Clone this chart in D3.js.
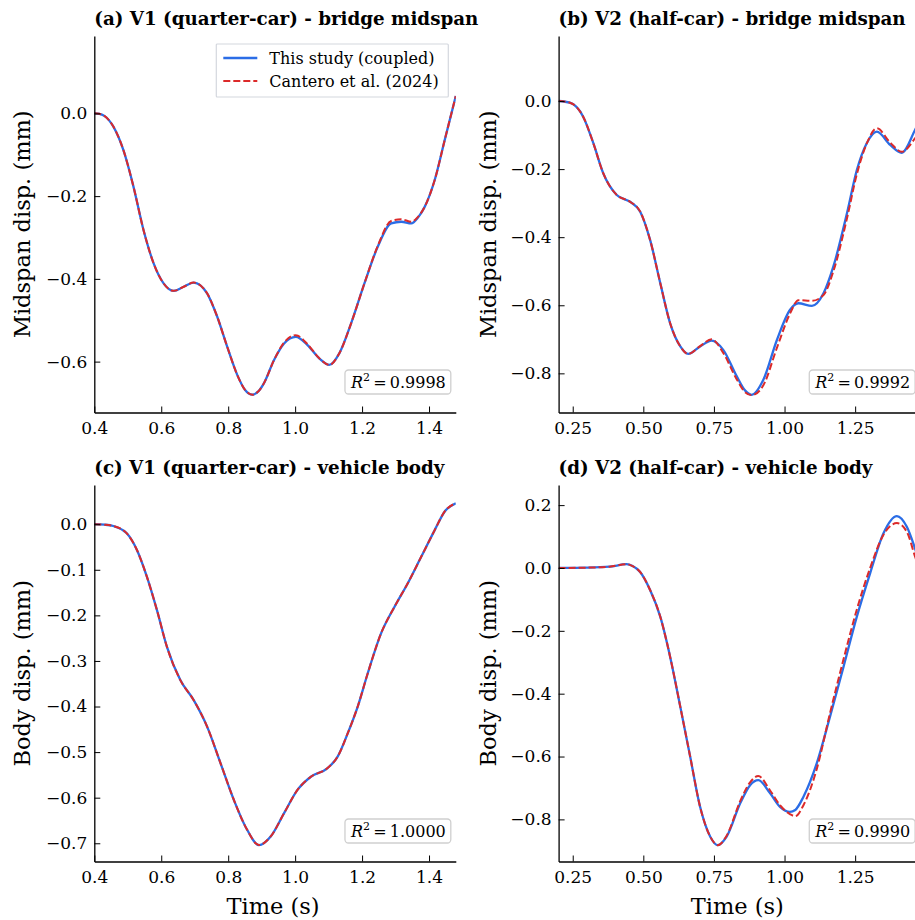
<!DOCTYPE html>
<html>
<head>
<meta charset="utf-8">
<script src="https://cdn.jsdelivr.net/npm/d3@7"></script>
<style>
body { margin: 0; background: #fff; }
text { font-family: "DejaVu Serif", serif; fill: #000; }
</style>
</head>
<body>
<script>
// (a) V1 bridge midspan
const timeA = [0.40, 0.415, 0.43, 0.457, 0.487, 0.517, 0.547, 0.577, 0.607, 0.637, 0.667, 0.697, 0.737, 0.767, 0.797, 0.827, 0.850, 0.872, 0.890, 0.907, 0.937, 0.967, 1.002, 1.037, 1.072, 1.102, 1.132, 1.167, 1.207, 1.247, 1.287, 1.317, 1.347, 1.367, 1.387, 1.417, 1.447, 1.48];
const studyA = [0.000, -0.001, -0.006, -0.032, -0.089, -0.177, -0.282, -0.362, -0.411, -0.429, -0.419, -0.409, -0.435, -0.491, -0.564, -0.632, -0.668, -0.680, -0.672, -0.652, -0.596, -0.556, -0.540, -0.560, -0.592, -0.608, -0.580, -0.508, -0.411, -0.322, -0.266, -0.262, -0.266, -0.252, -0.226, -0.161, -0.064, 0.042];
const canteroA = [0.000, -0.001, -0.006, -0.032, -0.089, -0.177, -0.282, -0.362, -0.411, -0.429, -0.419, -0.409, -0.435, -0.491, -0.564, -0.632, -0.668, -0.680, -0.672, -0.652, -0.596, -0.554, -0.536, -0.558, -0.592, -0.608, -0.580, -0.508, -0.411, -0.320, -0.260, -0.256, -0.262, -0.250, -0.226, -0.161, -0.064, 0.042];

// (b) V2 bridge midspan
const timeB = [0.200, 0.240, 0.287, 0.323, 0.358, 0.406, 0.453, 0.489, 0.524, 0.560, 0.595, 0.631, 0.659, 0.701, 0.742, 0.783, 0.831, 0.860, 0.884, 0.925, 0.973, 1.019, 1.049, 1.097, 1.138, 1.173, 1.221, 1.256, 1.291, 1.327, 1.374, 1.415, 1.462, 1.48];
const studyB = [0.000, -0.005, -0.046, -0.124, -0.212, -0.276, -0.296, -0.325, -0.408, -0.535, -0.653, -0.721, -0.743, -0.721, -0.704, -0.731, -0.809, -0.850, -0.863, -0.819, -0.702, -0.614, -0.594, -0.602, -0.565, -0.486, -0.330, -0.203, -0.124, -0.090, -0.129, -0.152, -0.085, -0.055];
const canteroB = [0.000, -0.005, -0.046, -0.124, -0.212, -0.276, -0.296, -0.325, -0.408, -0.535, -0.653, -0.721, -0.743, -0.720, -0.700, -0.740, -0.818, -0.855, -0.864, -0.835, -0.725, -0.625, -0.585, -0.587, -0.570, -0.500, -0.345, -0.215, -0.125, -0.080, -0.122, -0.149, -0.110, -0.090];

// (c) V1 vehicle body
const timeC = [0.400, 0.430, 0.457, 0.497, 0.527, 0.557, 0.587, 0.617, 0.657, 0.697, 0.737, 0.777, 0.817, 0.857, 0.892, 0.927, 0.967, 1.007, 1.047, 1.097, 1.127, 1.157, 1.187, 1.217, 1.257, 1.297, 1.337, 1.377, 1.417, 1.447, 1.48];
const studyC = [0.000, -0.001, -0.004, -0.020, -0.056, -0.115, -0.188, -0.269, -0.342, -0.386, -0.444, -0.524, -0.605, -0.671, -0.704, -0.685, -0.634, -0.583, -0.554, -0.535, -0.510, -0.459, -0.400, -0.327, -0.239, -0.181, -0.129, -0.071, -0.013, 0.028, 0.046];
const canteroC = [0.000, -0.001, -0.004, -0.020, -0.056, -0.115, -0.188, -0.269, -0.342, -0.386, -0.444, -0.524, -0.605, -0.671, -0.704, -0.685, -0.634, -0.583, -0.554, -0.535, -0.510, -0.459, -0.400, -0.327, -0.239, -0.181, -0.129, -0.071, -0.013, 0.028, 0.046];

// (d) V2 vehicle body
const timeD = [0.200, 0.300, 0.380, 0.441, 0.462, 0.488, 0.524, 0.560, 0.595, 0.631, 0.666, 0.701, 0.737, 0.764, 0.795, 0.843, 0.878, 0.907, 0.949, 0.984, 1.019, 1.038, 1.067, 1.114, 1.161, 1.209, 1.256, 1.303, 1.350, 1.398, 1.433, 1.462, 1.48];
const studyD = [0.000, 0.001, 0.004, 0.012, 0.006, -0.012, -0.070, -0.155, -0.283, -0.442, -0.601, -0.760, -0.855, -0.882, -0.855, -0.749, -0.691, -0.675, -0.717, -0.760, -0.776, -0.770, -0.728, -0.622, -0.473, -0.314, -0.155, -0.017, 0.110, 0.165, 0.131, 0.062, 0.010];
const canteroD = [0.000, 0.001, 0.004, 0.012, 0.006, -0.012, -0.070, -0.155, -0.283, -0.442, -0.601, -0.760, -0.855, -0.882, -0.852, -0.742, -0.682, -0.662, -0.708, -0.755, -0.783, -0.790, -0.755, -0.640, -0.462, -0.290, -0.132, 0.000, 0.105, 0.143, 0.115, 0.037, -0.010];

const titles = ["(a) V1 (quarter-car) - bridge midspan", "(b) V2 (half-car) - bridge midspan",
                "(c) V1 (quarter-car) - vehicle body", "(d) V2 (half-car) - vehicle body"];
const yLabels = ["Midspan disp. (mm)", "Midspan disp. (mm)", "Body disp. (mm)", "Body disp. (mm)"];
const r2Values = ["0.9998", "0.9992", "1.0000", "0.9990"];
const legendLabels = ["This study (coupled)", "Cantero et al. (2024)"];

const xDomains = [[0.4, 1.48], [0.2, 1.48], [0.4, 1.48], [0.2, 1.48]];
const xTicksLeft = [0.4, 0.6, 0.8, 1.0, 1.2, 1.4];
const xTicksRight = [0.25, 0.50, 0.75, 1.00, 1.25];
const yDomains = [[-0.723, 0.187], [-0.915, 0.191], [-0.740, 0.086], [-0.934, 0.264]];
const yTicks = [
    [0.0, -0.2, -0.4, -0.6],
    [0.0, -0.2, -0.4, -0.6, -0.8],
    [0.0, -0.1, -0.2, -0.3, -0.4, -0.5, -0.6, -0.7],
    [0.2, 0.0, -0.2, -0.4, -0.6, -0.8]
];

const times = [timeA, timeB, timeC, timeD];
const studies = [studyA, studyB, studyC, studyD];
const canteros = [canteroA, canteroB, canteroC, canteroD];

width = 915;
height = 920;
const colLeft = [94.3, 558.6];
const rowTop = [36, 485];
const axW = 361.5;
const axH = 376.5;
const blue = "#2b6de6";
const red = "#dc2a2a";

const svg = d3.select("body").append("svg")
    .attr("width", width)
    .attr("height", height);

for (let i = 0; i < 4; i++) {
    const col = i % 2, row = Math.floor(i / 2);
    const left = colLeft[col], top = rowTop[row];
    const x = d3.scaleLinear().domain(xDomains[i]).range([0, axW]);
    const y = d3.scaleLinear().domain(yDomains[i]).range([axH, 0]);
    const g = svg.append("g").attr("transform", `translate(${left},${top})`);

    g.append("clipPath").attr("id", "clip" + i)
        .append("rect").attr("width", axW).attr("height", axH);

    const line = d3.line()
        .x(d => x(d[0]))
        .y(d => y(d[1]))
        .curve(d3.curveMonotoneX);

    // curves
    g.append("path")
        .datum(d3.zip(times[i], studies[i]))
        .attr("clip-path", `url(#clip${i})`)
        .attr("fill", "none")
        .attr("stroke", blue)
        .attr("stroke-width", 2.3)
        .attr("d", line);
    g.append("path")
        .datum(d3.zip(times[i], canteros[i]))
        .attr("clip-path", `url(#clip${i})`)
        .attr("fill", "none")
        .attr("stroke", red)
        .attr("stroke-width", 2)
        .attr("stroke-dasharray", "7,3")
        .attr("d", line);

    // axes, ticks pointing inward
    const xAxis = d3.axisBottom(x)
        .tickValues(col === 0 ? xTicksLeft : xTicksRight)
        .tickFormat(d3.format(col === 0 ? ".1f" : ".2f"))
        .tickSizeInner(-6).tickSizeOuter(0).tickPadding(9);
    const yAxis = d3.axisLeft(y)
        .tickValues(yTicks[i])
        .tickFormat(d3.format(".1f"))
        .tickSizeInner(-6).tickSizeOuter(0).tickPadding(7);

    const gx = g.append("g").attr("transform", `translate(0,${axH})`).call(xAxis);
    const gy = g.append("g").call(yAxis);
    [gx, gy].forEach(a => {
        a.select(".domain").attr("stroke", "#000").attr("stroke-width", 1.3);
        a.selectAll(".tick line").attr("stroke", "#000").attr("stroke-width", 1);
        a.selectAll(".tick text")
            .attr("font-family", "DejaVu Serif")
            .attr("font-size", 17)
            .attr("fill", "#000");
    });

    // title, labels
    g.append("text")
        .attr("x", 0)
        .attr("y", -11)
        .attr("font-size", 18.3)
        .attr("font-weight", "bold")
        .text(titles[i]);

    g.append("text")
        .attr("transform", `translate(${col === 0 ? -72 : -70.6},${axH / 2}) rotate(-90)`)
        .attr("text-anchor", "middle")
        .attr("dy", "0.35em")
        .attr("font-size", 22.5)
        .text(yLabels[i]);

    if (row === 1) {
        g.append("text")
            .attr("x", axW / 2 - 2)
            .attr("y", axH + 52)
            .attr("text-anchor", "middle")
            .attr("font-size", 22.5)
            .text("Time (s)");
    }

    // R^2 box
    const box = g.append("g");
    const rect = box.append("rect")
        .attr("fill", "#fff")
        .attr("stroke", "#cfcfcf")
        .attr("stroke-width", 1.3)
        .attr("rx", 3.5);
    const t = box.append("text")
        .attr("x", axW - 10)
        .attr("y", axH - 25)
        .attr("text-anchor", "end")
        .attr("font-size", 16);
    t.append("tspan").attr("font-style", "italic").text("R");
    t.append("tspan").attr("font-size", 11).attr("dy", -7).text("2");
    t.append("tspan").attr("dy", 7).text("\u2009=\u2009" + r2Values[i]);
    const bb = t.node().getBBox();
    rect.attr("x", bb.x - 5).attr("y", axH - 42.5)
        .attr("width", bb.width + 10).attr("height", 24);

    // legend in first panel
    if (i === 0) {
        const lg = g.append("g").attr("transform", `translate(${axW - 239.5},8)`);
        lg.append("rect")
            .attr("width", 232).attr("height", 53)
            .attr("fill", "#fff").attr("fill-opacity", 0.9)
            .attr("stroke", "#d4d7de").attr("stroke-width", 1.2).attr("rx", 1);
        legendLabels.forEach((lab, k) => {
            const yy = 14 + k * 23;
            lg.append("line")
                .attr("x1", 7).attr("x2", 41).attr("y1", yy).attr("y2", yy)
                .attr("stroke", k === 0 ? blue : red)
                .attr("stroke-width", k === 0 ? 2.3 : 2)
                .attr("stroke-dasharray", k === 0 ? null : "7,3");
            lg.append("text")
                .attr("x", 53).attr("y", yy)
                .attr("dy", "0.35em")
                .attr("font-size", 16)
                .text(lab);
        });
    }
}
</script>
</body>
</html>
